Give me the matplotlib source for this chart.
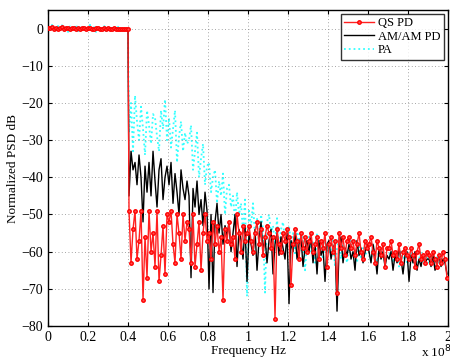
import numpy as np
import matplotlib
matplotlib.use("Agg")
import matplotlib.pyplot as plt

# ---- data ----
freq_in = np.round(np.arange(41) * 0.01, 3)          # 0 .. 0.40 (x1e8 Hz)
freq_out = np.round(0.405 + np.arange(160) * 0.01, 3)  # 0.405 .. 1.995

qs_in = [0.2, 0.1, 0.3, 0.0, 0.2, -0.1, 0.1, 0.3, 0.0, 0.1,
         0.2, -0.1, 0.1, 0.2, 0.0, 0.1, -0.1, 0.2, 0.1, 0.0,
         0.1, 0.2, -0.1, 0.0, 0.1, 0.2, 0.0, -0.1, 0.1, 0.0,
         0.1, -0.1, 0.0, 0.1, -0.2, 0.0, -0.1, 0.0, -0.2, -0.1, -0.2]
am_in = [0.1, 0.0, 0.2, 0.0, 0.1, -0.1, 0.1, 0.0, -0.1, 0.1,
         0.0, -0.1, 0.0, 0.1, -0.1, 0.0, -0.2, 0.0, -0.1, -0.2,
         0.0, -0.1, -0.2, -0.1, 0.0, -0.2, -0.1, -0.3, -0.2, -0.1,
         -0.3, -0.2, -0.3, -0.4, -0.2, -0.3, -0.4, -0.3, -0.5, -0.4, -0.5]
pa_in = [0.5, -0.6, 1.0, 0.2, -0.8, 0.7, -0.3, 0.9, -0.5, 0.4,
         -0.9, 0.6, 0.1, -0.4, 1.1, -0.7, 0.3, -0.2, 0.8, -0.6,
         0.2, 1.0, -0.5, 0.4, -0.9, 0.7, 0.0, -0.4, 0.9, -0.7,
         0.3, -0.3, 0.6, -0.8, 0.2, 0.5, -0.6, 0.1, -0.9, 0.4, -0.7]

qs_out = [-49, -63, -54, -49, -62, -57, -49, -73, -56, -67,
          -49, -60, -55, -64, -49, -68, -61, -53, -66, -50,
          -52, -49, -58, -63, -50, -55, -62, -50, -57, -52,
          -54, -63, -50, -64, -58, -52, -65, -55, -50, -57,
          -55, -62, -52, -58, -53, -60, -56, -73, -54, -57,
          -52, -58, -56, -62, -50, -55, -60, -53, -57, -55,
          -53, -57, -60, -55, -52, -58, -54, -61, -56, -53,
          -55, -59, -56, -78, -54, -58, -60, -55, -57, -54,
          -56, -69, -58, -54, -57, -62, -55, -59, -56, -60,
          -57, -55, -60, -58, -56, -62, -57, -59, -55, -64,
          -58, -56, -60, -57, -71, -55, -59, -56, -61, -57,
          -56, -59, -57, -61, -58, -55, -60, -62, -57, -59,
          -58, -56, -60, -63, -57, -59, -61, -58, -64, -59,
          -59, -57, -61, -60, -62, -58, -63, -60, -59, -61,
          -62, -59, -61, -64, -60, -58, -62, -61, -63, -60,
          -61, -63, -60, -62, -64, -61, -63, -60, -62, -67]

am_out = [-45, -33, -38, -36, -42, -34, -40, -52, -37, -44,
          -36, -45, -33, -41, -48, -38, -35, -46, -40, -37,
          -42, -36, -47, -39, -44, -50, -38, -43, -46, -41,
          -45, -67, -43, -48, -41, -50, -46, -53, -44, -49,
          -70, -50, -71, -52, -47, -55, -50, -58, -53, -56,
          -52, -60, -55, -50, -64, -54, -57, -62, -53, -68,
          -55, -58, -61, -54, -65, -57, -52, -60, -56, -63,
          -57, -54, -66, -58, -55, -61, -56, -59, -62, -55,
          -74, -57, -60, -55, -62, -58, -56, -64, -59, -57,
          -60, -56, -63, -58, -66, -57, -61, -59, -68, -58,
          -57, -62, -59, -58, -76, -60, -56, -63, -59, -61,
          -58, -62, -60, -65, -57, -61, -59, -63, -60, -58,
          -60, -63, -58, -61, -66, -59, -62, -60, -64, -61,
          -62, -60, -65, -61, -63, -59, -62, -66, -61, -60,
          -68, -61, -63, -60, -65, -62, -64, -61, -63, -62,
          -62, -64, -61, -65, -63, -61, -64, -62, -63, -66]

pa_out = [-28, -20, -33, -18, -25, -30, -21, -27, -34, -22,
          -26, -31, -23, -24, -29, -33, -22, -27, -19, -30,
          -24, -32, -27, -22, -36, -29, -25, -33, -28, -31,
          -30, -26, -38, -33, -28, -40, -35, -31, -42, -37,
          -36, -44, -40, -38, -47, -41, -45, -39, -50, -43,
          -42, -48, -45, -52, -44, -50, -47, -55, -46, -72,
          -49, -53, -47, -56, -51, -58, -50, -54, -71, -52,
          -50, -55, -53, -58, -51, -60, -54, -52, -57, -56,
          -53, -58, -55, -61, -54, -57, -60, -56, -65, -58,
          -56, -60, -57, -63, -55, -59, -58, -62, -57, -60,
          -58, -61, -57, -64, -59, -56, -62, -58, -60, -63,
          -59, -57, -61, -60, -63, -58, -62, -59, -61, -60,
          -60, -62, -58, -61, -64, -59, -62, -60, -63, -61,
          -61, -59, -63, -60, -62, -64, -60, -62, -61, -63,
          -62, -60, -63, -61, -64, -62, -60, -63, -62, -61,
          -63, -61, -62, -64, -61, -63, -62, -60, -63, -62]

series_labels = ["QS PD", "AM/AM PD", "PA"]
xtick_vals = [0, 0.2, 0.4, 0.6, 0.8, 1.0, 1.2, 1.4, 1.6, 1.8, 2.0]
xtick_labels = ["0", "0.2", "0.4", "0.6", "0.8", "1", "1.2", "1.4", "1.6", "1.8", "2"]
ytick_vals = [-80, -70, -60, -50, -40, -30, -20, -10, 0]

freq = np.concatenate([freq_in, freq_out])
qs = np.concatenate([qs_in, qs_out])
am = np.concatenate([am_in, am_out])
pa = np.concatenate([pa_in, pa_out])

plt.rcParams['font.family'] = ['Liberation Serif', 'DejaVu Serif']
plt.rcParams['axes.unicode_minus'] = True

fig = plt.figure(figsize=(4.5, 3.62), dpi=100)
ax = fig.add_axes([0.1067, 0.0994, 0.8889, 0.873])

ax.plot(freq, qs, '-', color='#ff2020', lw=1.0, marker='o', markersize=2.5,
        markerfacecolor='#ff5050', markeredgecolor='red', label=series_labels[0], zorder=3)
ax.plot(freq, am, '-', color='black', lw=1.0, label=series_labels[1], zorder=2)
ax.plot(freq, pa, ':', color='#33ffff', lw=1.3, label=series_labels[2], zorder=1)

ax.set_xlim(0, 2)
ax.set_ylim(-80, 5)
ax.set_xticks(xtick_vals)
ax.set_xticklabels(xtick_labels)
ax.set_yticks(ytick_vals)
ax.tick_params(direction='in', labelsize=10, length=3, top=True, right=True)
ax.grid(True, linestyle=(0, (1, 3)), color='#888888', linewidth=0.6)
for s in ax.spines.values():
    s.set_linewidth(1.0)

ax.set_xlabel("Frequency Hz", fontsize=9.5, labelpad=1)
ax.set_ylabel("Normalized PSD dB", fontsize=9.5, labelpad=2)

fig.text(0.935, 0.012, r"x 10$^{8}$", fontsize=9.5)

leg = ax.legend(loc='upper right', fontsize=9, frameon=True, fancybox=False,
                borderpad=0.3, labelspacing=0.1, handlelength=2.4, handletextpad=0.3,
                borderaxespad=0.3)
leg.get_frame().set_edgecolor('black')
leg.get_frame().set_linewidth(1.0)

fig.savefig("out.png", dpi=100)
